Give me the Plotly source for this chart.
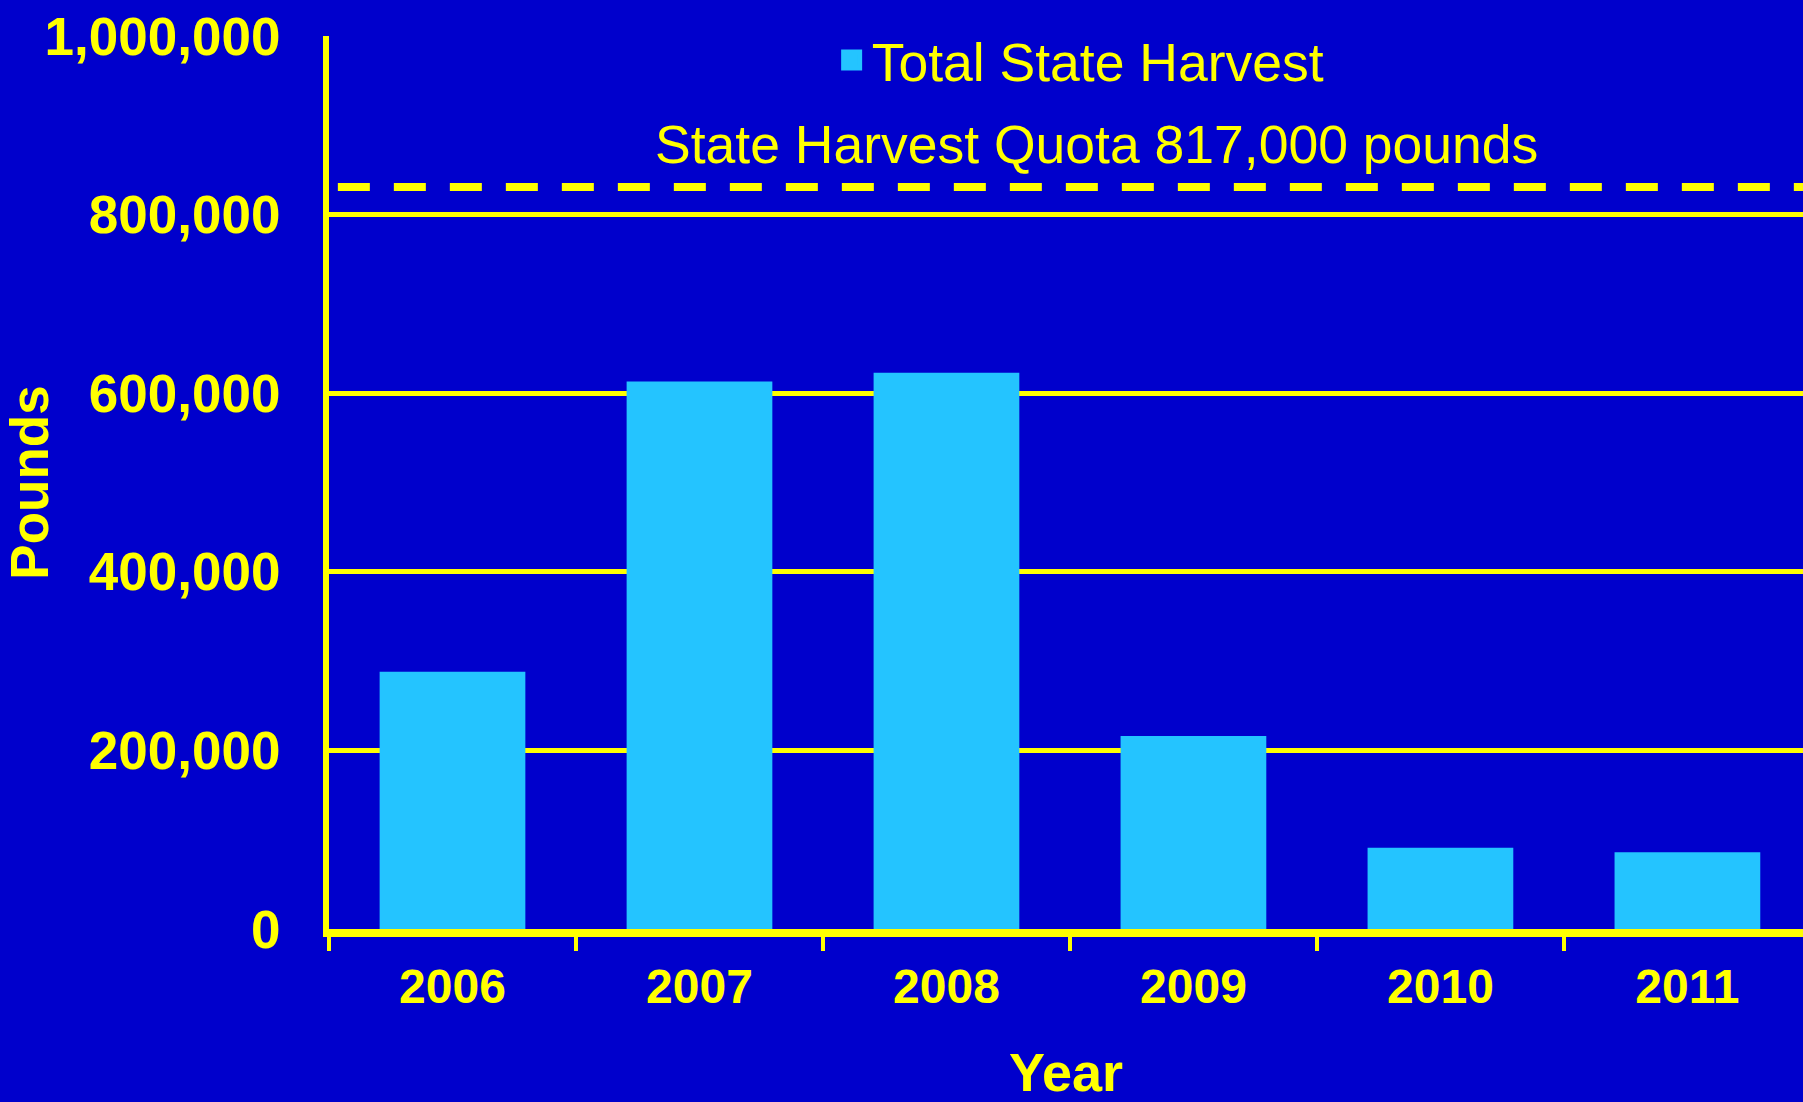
import plotly.graph_objects as go

years = ["2006", "2007", "2008", "2009", "2010", "2011"]
harvest = [288000, 613000, 623000, 216000, 91000, 86000]
quota_line = [831000]
quota_label = "State Harvest Quota 817,000 pounds"
y_ticks = [0, 200000, 400000, 600000, 800000, 1000000]
y_tick_labels = ["0", "200,000", "400,000", "600,000", "800,000", "1,000,000"]

BG = "#0000CC"
YEL = "#FFFF00"
BAR = "#24C4FF"
FONT = "Liberation Sans, Arial, sans-serif"

fig = go.Figure()
fig.add_trace(go.Bar(
    x=years, y=harvest, name="Total State Harvest", showlegend=False,
    legendgroup="h",
    marker=dict(color=BAR, line=dict(width=0)), width=0.59,
))
# legend entry with a larger square swatch
fig.add_trace(go.Scatter(
    x=[years[0]], y=[None], mode="markers", name="Total State Harvest",
    legendgroup="h", showlegend=True, hoverinfo="skip",
    marker=dict(symbol="square", size=26, color=BAR,
                line=dict(color=BAR, width=10)),
))

fig.add_shape(type="line", xref="paper", yref="y", x0=0.006, x1=1,
              y0=quota_line[0], y1=quota_line[0],
              line=dict(color=YEL, width=8, dash="32px,24px"))

fig.add_annotation(text=quota_label, xref="paper", yref="paper",
                   x=0.521, y=0.879, xanchor="center", yanchor="middle",
                   showarrow=False,
                   font=dict(family=FONT, size=53.5, color=YEL))

fig.update_layout(
    width=1803, height=1102,
    paper_bgcolor=BG, plot_bgcolor=BG,
    margin=dict(l=329, r=0, t=36, b=173),
    showlegend=True,
    legend=dict(x=0.341, y=0.973, xanchor="left", yanchor="middle",
                bgcolor="rgba(0,0,0,0)", itemsizing="trace",
                font=dict(family=FONT, size=53.5, color=YEL)),
    bargap=0.41,
)

fig.update_xaxes(
    type="category", range=[-0.5, 5.468], automargin=False,
    showline=True, linecolor=YEL, linewidth=8,
    ticks="outside", tickson="boundaries", ticklen=14, tickwidth=4, tickcolor=YEL,
    showgrid=False, ticklabelstandoff=8,
    tickfont=dict(family=FONT, size=48, color=YEL, weight="bold"),
    title=dict(text="<b>Year</b>", font=dict(family=FONT, size=54, color=YEL), standoff=66),
)

fig.update_yaxes(
    range=[0, 1000000], automargin=False,
    tickvals=y_ticks, ticktext=["<b>%s</b>" % t for t in y_tick_labels],
    showline=True, linecolor=YEL, linewidth=6,
    showgrid=True, gridcolor=YEL, gridwidth=5,
    zeroline=False, ticks="", ticklabelstandoff=32,
    tickfont=dict(family=FONT, size=53, color=YEL),
    title=dict(text="<b>Pounds</b>", font=dict(family=FONT, size=53, color=YEL), standoff=1),
)

fig.write_html(
    "out.html",
    config={"displayModeBar": False},
    post_script="document.body.style.margin='0';document.body.style.overflow='hidden';"
                "document.documentElement.style.overflow='hidden';",
)
